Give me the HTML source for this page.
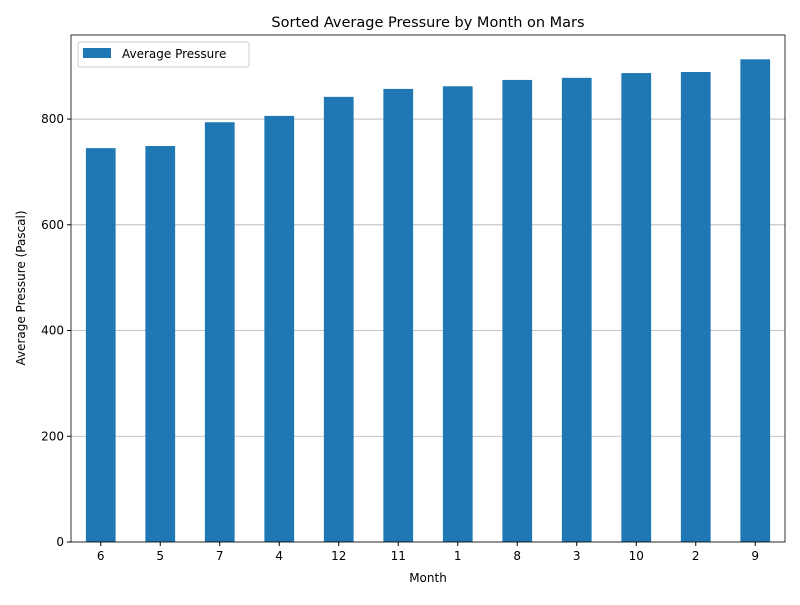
<!DOCTYPE html>
<html><head><meta charset="utf-8"><style>
body{margin:0;background:#fff;font-family:"Liberation Sans","DejaVu Sans",sans-serif;}
</style></head><body>
<svg id="chart" width="800" height="600" xmlns="http://www.w3.org/2000/svg" font-family="DejaVu Sans, Liberation Sans, sans-serif">
<text x="428" y="27" text-anchor="middle" font-size="14.5">Sorted Average Pressure by Month on Mars</text>
<g id="grid"></g><g id="bars"></g><g id="axes"></g>
<text x="428" y="582" text-anchor="middle" font-size="12">Month</text>
<text transform="translate(25,288) rotate(-90)" text-anchor="middle" font-size="12">Average Pressure (Pascal)</text>
<g>
<rect x="78" y="42" width="171" height="25" fill="#fff" stroke="#ccc" rx="2"/>
<rect x="83" y="48" width="28" height="10" fill="#1f77b4"/>
<text x="122" y="58" font-size="12">Average Pressure</text>
</g>
</svg>
<script>
const months=["6","5","7","4","12","11","1","8","3","10","2","9"];
const pressures=[745,749,794,806,842,857,862,874,878,887,889,913];
const yTicks=[0,200,400,600,800];
const L=71,R=785,T=35,B=542,YMAX=959;
const ns="http://www.w3.org/2000/svg";
const y=v=>B-(v/YMAX)*(B-T);
const step=(R-L)/months.length;
const x=i=>L+step*(i+0.5);
function mk(tag,attrs,parent){const e=document.createElementNS(ns,tag);for(const k in attrs)e.setAttribute(k,attrs[k]);document.getElementById(parent).appendChild(e);return e;}
yTicks.forEach(t=>{
 const g=mk('line',{x1:L,x2:R,y1:y(t),y2:y(t),stroke:'#b0b0b0','stroke-width':0.8},'grid');
 
 
 const tk=mk('line',{x1:L-4,x2:L,y1:y(t),y2:y(t),stroke:'#000'},'axes');
 
 
 const tx=mk('text',{x:L-7,y:y(t)+4,'text-anchor':'end','font-size':12},'axes');
 tx.textContent=t;
 
 
});
months.forEach((m,i)=>{
 const bw=step*0.5;
 const r=mk('rect',{x:x(i)-bw/2,y:y(pressures[i]),width:bw,height:B-y(pressures[i]),fill:'#1f77b4'},'bars');
 
 
 const tk=mk('line',{x1:x(i),x2:x(i),y1:B,y2:B+4,stroke:'#000'},'axes');
 
 
 const tx=mk('text',{x:x(i),y:B+18,'text-anchor':'middle','font-size':12},'axes');
 tx.textContent=m;
 
 
});
const fr=mk('rect',{x:L,y:T,width:R-L,height:B-T,fill:'none',stroke:'#000','stroke-width':0.8},'axes');


</script>
</body></html>
